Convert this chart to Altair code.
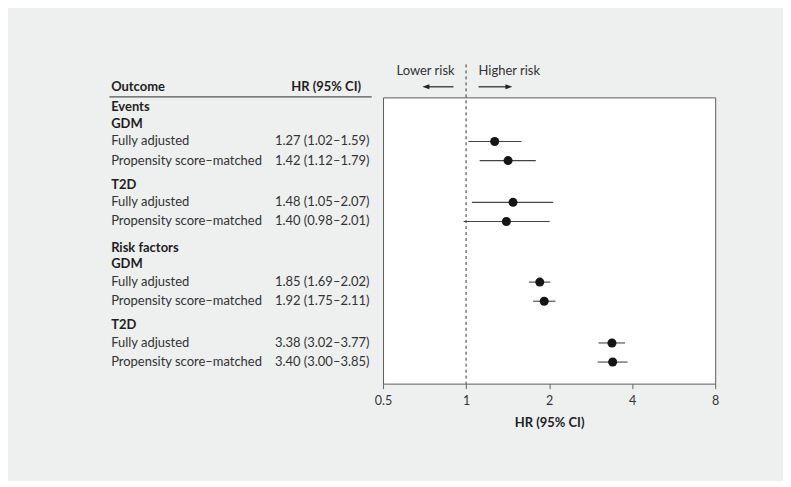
import altair as alt
import pandas as pd

sections = ["Events", "Risk factors"]
subgroups = ["GDM", "T2D"]
methods = ["Fully adjusted", "Propensity score–matched"]
hr = [1.27, 1.42, 1.48, 1.40, 1.85, 1.92, 3.38, 3.40]
lo = [1.02, 1.12, 1.05, 0.98, 1.69, 1.75, 3.02, 3.00]
hi = [1.59, 1.79, 2.07, 2.01, 2.02, 2.11, 3.77, 3.85]
x_ticks = [0.5, 1, 2, 4, 8]
risk_labels = ["Lower risk", "Higher risk"]
risk_label_x = [0.713, 1.434]
arrow_tail = [0.9, 1.11]
arrow_head = [0.715, 1.43]

FONT = "Lato"
TXT = "#333333"

# build table rows (line = row order, with extra spacing between blocks)
rows = []
line = 0.0
k = 0
for si, s in enumerate(sections):
    if si > 0:
        line += 1.42
    rows.append(dict(label=s, line=line, kind="head", est=None, lo=None, hi=None, txt=""))
    line += 0.9
    for gi, g in enumerate(subgroups):
        if gi > 0:
            line += 1.3
        rows.append(dict(label=g, line=line, kind="head", est=None, lo=None, hi=None, txt=""))
        for mi, m in enumerate(methods):
            line += 0.95 if mi == 0 else 1.03
            rows.append(dict(label=m, line=line, kind="row", est=hr[k], lo=lo[k], hi=hi[k],
                             txt=f"{hr[k]:.2f} ({lo[k]:.2f}–{hi[k]:.2f})"))
            k += 1
df = pd.DataFrame(rows)
est_df = df[df.kind == "row"]
head_df = df[df.kind == "head"]

W, H = 333, 287
PX_LINE = 18.6
TOP = 9.8
ydom = [-TOP / PX_LINE, (H - TOP) / PX_LINE]
yscale = alt.Scale(domain=ydom, reverse=True, nice=False, zero=False)
xscale = alt.Scale(type="log", domain=[0.5, 8], nice=False, zero=False)
xaxis = alt.Axis(values=x_ticks, format="~g", title="HR (95% CI)", grid=False,
                 domain=False, ticks=True, tickSize=5, tickColor="#666666",
                 labelFlush=False, labelOverlap=False,
                 labelFont=FONT, labelFontSize=12.5, labelColor=TXT, labelPadding=6,
                 titleFont=FONT, titleFontSize=13, titleFontWeight="bold", titleColor="#222222",
                 titlePadding=9)

def X(field):
    return alt.X(f"{field}:Q", scale=xscale, axis=xaxis, title="HR (95% CI)")

Y = alt.Y("line:Q", scale=yscale, axis=None)

ci = alt.Chart(est_df).mark_rule(color="#444444", strokeWidth=1.1).encode(
    x=X("lo"), x2="hi:Q", y=Y)
pts = alt.Chart(est_df).mark_circle(size=82, color="#151515", opacity=1).encode(
    x=X("est"), y=Y)

ref = alt.Chart(pd.DataFrame({"est": [1]})).mark_rule(
    color="#333333", strokeDash=[3, 3], strokeWidth=1).encode(
    x=X("est"), y=alt.value(-33), y2=alt.value(H))

LX = -272.6
lab_row = alt.Chart(est_df).mark_text(align="left", baseline="middle", font=FONT,
                                      fontSize=13, color=TXT).encode(
    x=alt.value(LX), y=Y, text="label:N")
lab_head = alt.Chart(head_df).mark_text(align="left", baseline="middle", font=FONT,
                                        fontSize=13, fontWeight="bold", color="#1e1e1e").encode(
    x=alt.value(LX), y=Y, text="label:N")
hr_txt = alt.Chart(est_df).mark_text(align="right", baseline="middle", font=FONT,
                                     fontSize=13, color=TXT).encode(
    x=alt.value(-13.6), y=Y, text="txt:N")

hdr_df = pd.DataFrame({"t": ["Outcome", "HR (95% CI)"]})
hdr1 = alt.Chart(hdr_df.iloc[[0]]).mark_text(align="left", baseline="middle", font=FONT,
                                             fontSize=13, fontWeight="bold", color="#1e1e1e").encode(
    x=alt.value(LX), y=alt.value(-10.3), text="t:N")
hdr2 = alt.Chart(hdr_df.iloc[[1]]).mark_text(align="right", baseline="middle", font=FONT,
                                             fontSize=13, fontWeight="bold", color="#1e1e1e").encode(
    x=alt.value(-22), y=alt.value(-10.3), text="t:N")
hdr_rule = alt.Chart(hdr_df.iloc[[0]]).mark_rule(color="#555555", strokeWidth=1.2).encode(
    x=alt.value(-274.3), x2=alt.value(-11.3), y=alt.value(-0.6))

risk_df = pd.DataFrame({"label": risk_labels, "est": risk_label_x,
                        "tail": arrow_tail, "head": arrow_head,
                        "shape": ["M-1,0L1,-0.7L1,0.7Z", "M1,0L-1,-0.7L-1,0.7Z"]})
risk_txt = alt.Chart(risk_df).mark_text(align="center", baseline="middle", font=FONT,
                                        fontSize=13, color=TXT).encode(
    x=X("est"), y=alt.value(-26.5), text="label:N")
arrow_line = alt.Chart(risk_df).mark_rule(color="#222222", strokeWidth=1.2).encode(
    x=X("tail"), x2="head:Q", y=alt.value(-10.6))
heads = []
for i in range(2):
    heads.append(alt.Chart(risk_df.iloc[[i]]).mark_point(
        shape=risk_df["shape"][i], filled=True, size=49, color="#222222", opacity=1).encode(
        x=X("head"), y=alt.value(-10.6)))

chart = alt.layer(ref, ci, pts, lab_row, lab_head, hr_txt, hdr1, hdr2, hdr_rule,
                  risk_txt, arrow_line, *heads).properties(
    width=W, height=H,
    background="#eeefef",
    padding={"left": 376, "top": 89, "right": 68, "bottom": 97},
    autosize=alt.AutoSizeParams(type="none"),
).configure_view(fill="white", stroke="#5c5c5c", strokeWidth=1)

chart.save("out.html", embed_options={"renderer": "svg", "actions": False})
